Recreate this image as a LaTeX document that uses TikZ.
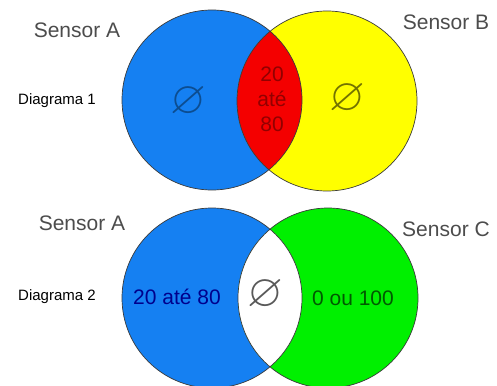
\documentclass[tikz,border=0pt]{standalone}
\usepackage{amssymb}
\usepackage{fontspec}
\setmainfont{Liberation Sans}
\usepackage{tikz}
\definecolor{azul}{HTML}{1580F2}
\definecolor{amarelo}{HTML}{FFFF00}
\definecolor{vermelho}{HTML}{F40000}
\definecolor{verde}{HTML}{00F000}
\definecolor{borda}{HTML}{3A3A3A}
\tikzset{
  rotulo/.style={font=\fontsize{21}{24}\selectfont,text=black!70},
  diagrama/.style={font=\fontsize{15}{17}\selectfont,text=black},
  valor/.style={font=\fontsize{21}{25}\selectfont,align=center},
  vazio/.style={font=\fontsize{46}{46}\selectfont,text=black!65,inner sep=0pt},
  contorno/.style={draw=borda,line width=0.7pt}
}
% dois conjuntos com interseccao preenchida
\newcommand{\venn}[5]{%
  \fill[#3] (#1) circle (90pt);
  \fill[#4] (#2) circle (90pt);
  \begin{scope}
    \clip (#1) circle (90pt);
    \fill[#5] (#2) circle (90pt);
  \end{scope}
  \draw[contorno] (#1) circle (90pt) (#2) circle (90pt);}

\begin{document}
\begin{tikzpicture}[x=1pt,y=-1pt]
  \useasboundingbox (0,0) rectangle (497,385);
  \coordinate (cA1) at (212,100);
  \coordinate (cB) at (327,101);
  \coordinate (cA2) at (212,298);
  \coordinate (cC) at (328,298);
  % Diagrama 1
  \venn{cA1}{cB}{azul}{amarelo}{vermelho}
  \node[rotulo] (sA1) at (77,30) {Sensor A};
  \node[rotulo] (sB) at (446,22) {Sensor B};
  \node[diagrama] (d1) at (57,101) {Diagrama 1};
  \node[vazio,text=azul!60!black] (vA1) at (188,102) {$\varnothing$};
  \node[vazio,text=amarelo!45!black] (vB) at (347,99) {$\varnothing$};
  \node[valor,text=vermelho!60!black] (vAB) at (272,99) {20\\até\\80};
  % Diagrama 2
  \venn{cA2}{cC}{azul}{verde}{white}
  \node[rotulo] (sA2) at (82,223) {Sensor A};
  \node[rotulo] (sC) at (446,229) {Sensor C};
  \node[diagrama] (d2) at (57,297) {Diagrama 2};
  \node[valor,text=blue!55!black] (vA2) at (177,297) {20 até 80};
  \node[valor,text=green!35!black] (vC) at (353,298) {0 ou 100};
  \node[vazio] (vAC) at (265,295) {$\varnothing$};
\end{tikzpicture}
\end{document}
